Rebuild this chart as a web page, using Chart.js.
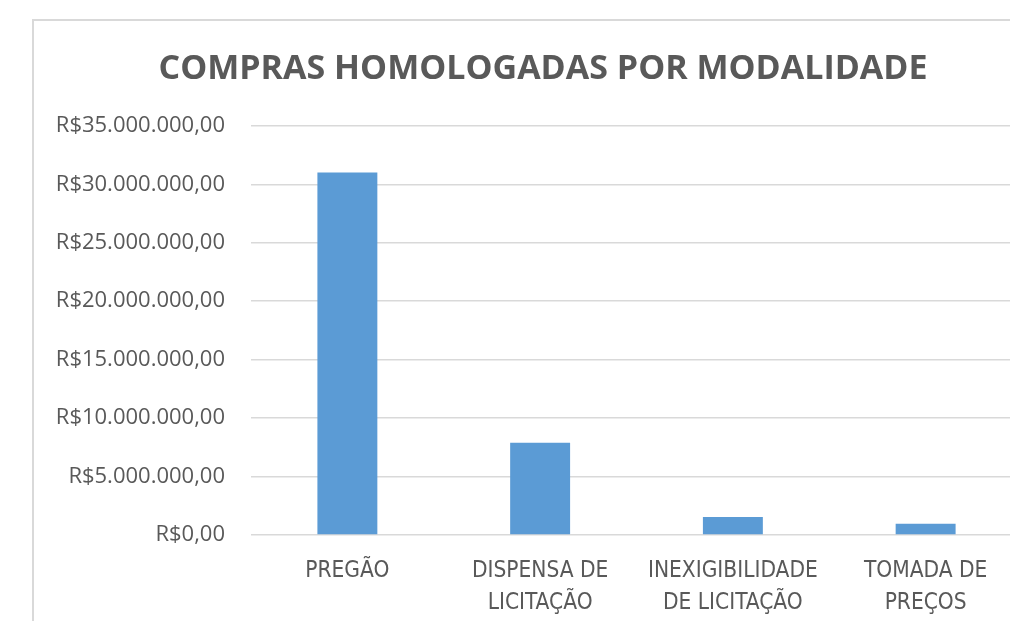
<!DOCTYPE html>
<html>
<head>
<meta charset="utf-8">
<script src="https://cdn.jsdelivr.net/npm/chart.js@4/dist/chart.umd.min.js"></script>
<style>
    html, body { margin: 0; padding: 0; background: #fff; overflow: hidden; width: 1010px; height: 621px; }
    #frame {
        position: absolute; left: 32px; top: 19px;
        width: 1020px; height: 620px;
        border-left: 2px solid #d9d9d9; border-top: 2px solid #d9d9d9;
    }
    #wrap { position: absolute; left: 0; top: 0; width: 1018px; height: 600px; }
</style>
</head>
<body>
<div id="frame">
    <div id="wrap"><canvas id="modalidades"></canvas></div>
</div>
<script>
var categorias = [
    "PREGÃO",
    ["DISPENSA DE", "LICITAÇÃO"],
    ["INEXIGIBILIDADE", "DE LICITAÇÃO"],
    ["TOMADA DE", "PREÇOS"]
];
var valores = [31000000, 7900000, 1540000, 970000];
var eixoMax = 35000000;
var eixoPasso = 5000000;

function reais(v) {
    var s = Math.round(v).toString().replace(/\B(?=(\d{3})+(?!\d))/g, ".");
    return "R$" + s + ",00";
}

var cinza = "#595959";
var fonte = "'Open Sans', 'Noto Sans', sans-serif";

var chart = new Chart(document.getElementById("modalidades"), {
    type: "bar",
    data: {
        labels: categorias,
        datasets: [{
            data: valores,
            backgroundColor: "#5b9bd5",
            borderWidth: 0,
            barPercentage: 0.311,
            categoryPercentage: 1
        }]
    },
    options: {
        responsive: true,
        maintainAspectRatio: false,
        animation: false,
        layout: { padding: { top: 13, right: 0, bottom: 0, left: 0 } },
        plugins: {
            legend: { display: false },
            tooltip: { enabled: false },
            title: {
                display: true,
                text: "COMPRAS HOMOLOGADAS POR MODALIDADE",
                color: cinza,
                font: { family: fonte, size: 34, weight: "bold" },
                padding: { top: 15, bottom: 36 }
            }
        },
        scales: {
            x: {
                grid: { display: false },
                border: { display: false },
                ticks: {
                    color: cinza,
                    font: { family: "'Liberation Sans Narrow', 'DejaVu Sans Condensed', sans-serif", size: 22.5, lineHeight: 1.42 },
                    padding: 12,
                    maxRotation: 0,
                    autoSkip: false
                },
                afterFit: function(s) { s.height = 86; }
            },
            y: {
                min: 0,
                max: eixoMax,
                grid: { color: "#d9d9d9", lineWidth: 1.5, drawTicks: false },
                border: { display: false },
                ticks: {
                    stepSize: eixoPasso,
                    color: cinza,
                    font: { family: fonte, size: 22 },
                    padding: 26,
                    callback: function(v) { return reais(v); }
                },
                afterFit: function(s) { s.width = 217; }
            },
            // empty strip on the right so the plot ends before the title box does
            margem: {
                position: "right",
                grid: { display: false },
                border: { display: false },
                ticks: { display: false },
                afterFit: function(s) { s.width = 30; }
            }
        }
    }
});
</script>
</body>
</html>
